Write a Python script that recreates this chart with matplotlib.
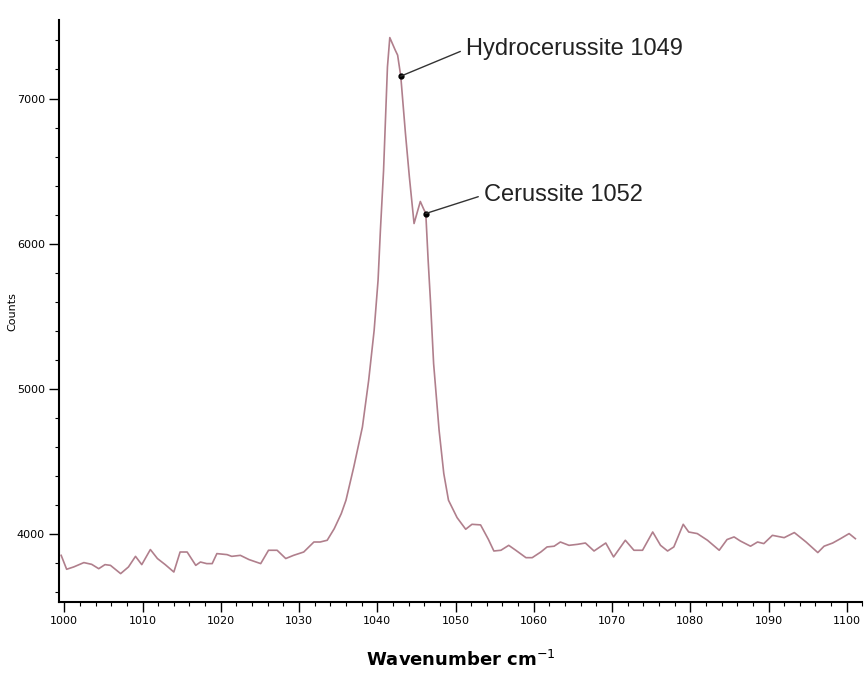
import matplotlib
matplotlib.use("Agg")
import matplotlib.pyplot as plt
from matplotlib.ticker import MultipleLocator

# spectrum
wavenumber = [
    999.6, 1000.3, 1001.2, 1002.5, 1003.5, 1004.4, 1005.2, 1005.9, 1007.2, 1008.2,
    1009.1, 1009.9, 1011.0, 1011.9, 1012.9, 1014.0, 1014.8, 1015.7, 1016.8, 1017.4,
    1018.2, 1018.9, 1019.5, 1020.8, 1021.4, 1022.5, 1023.6, 1025.1, 1026.1, 1027.2,
    1028.3, 1029.3, 1030.6, 1031.9, 1032.7, 1033.6, 1034.5, 1035.4, 1036.0, 1037.0,
    1038.1, 1038.9, 1039.6, 1040.1, 1040.4, 1040.8, 1041.3, 1041.6, 1042.3, 1042.6,
    1043.0, 1043.6, 1044.1, 1044.7, 1045.5, 1045.9, 1046.2, 1046.5, 1046.8, 1047.2,
    1047.9, 1048.5, 1049.1, 1050.2, 1051.3, 1052.1, 1053.2, 1054.2, 1054.9, 1055.8,
    1056.8, 1057.7, 1059.0, 1059.8, 1060.9, 1061.7, 1062.6, 1063.4, 1064.5, 1065.6,
    1066.6, 1067.7, 1069.2, 1070.2, 1071.7, 1072.8, 1073.9, 1075.2, 1076.2, 1077.1,
    1077.9, 1079.1, 1079.8, 1080.9, 1082.2, 1083.7, 1084.7, 1085.6, 1086.4, 1087.7,
    1088.6, 1089.4, 1090.5, 1092.0, 1093.3, 1094.8, 1096.3, 1097.1, 1098.2, 1099.2,
    1100.3, 1101.1,
]
counts = [
    3850, 3754, 3770, 3800, 3788, 3758, 3786, 3781, 3724, 3770,
    3843, 3786, 3890, 3828, 3786, 3735, 3873, 3873, 3781, 3804,
    3793, 3793, 3862, 3855, 3843, 3850, 3821, 3793, 3885, 3885,
    3828, 3850, 3873, 3942, 3942, 3954, 4034, 4138, 4230, 4460,
    4735, 5057, 5402, 5747, 6092, 6500, 7218, 7420, 7333, 7299,
    7154, 6759, 6460, 6138, 6290, 6241, 6207, 5885, 5600, 5172,
    4712, 4414, 4230, 4110, 4030, 4064, 4060, 3960, 3880, 3885,
    3919, 3885, 3834, 3834, 3873, 3908, 3913, 3942, 3919, 3926,
    3935, 3880, 3935, 3839, 3954, 3885, 3885, 4011, 3919, 3880,
    3908, 4064, 4011, 4000, 3954, 3885, 3959, 3977, 3949, 3913,
    3942, 3931, 3988, 3972, 4007, 3942, 3869, 3913, 3935, 3965,
    4000, 3965,
]

# peak labels: text, marked point, text position
peak_labels = ["Hydrocerussite 1049", "Cerussite 1052"]
peak_points = [(1043.0, 7154), (1046.2, 6207)]
label_points = [(1051.3, 7340), (1053.6, 6335)]

fig = plt.figure(figsize=(8.65, 6.73), dpi=100)
ax = fig.add_axes([0.068, 0.105, 0.929, 0.865])

ax.plot(wavenumber, counts, color='#b07f8c', lw=1.2)

for text, pt, tpos in zip(peak_labels, peak_points, label_points):
    ax.plot(pt[0], pt[1], 'o', color='k', ms=3.5, zorder=3)
    ax.annotate(text, xy=pt, xytext=tpos, ha='left', va='center',
                fontsize=17, family='Liberation Sans', color='#222222',
                arrowprops=dict(arrowstyle='-', color='#333333', lw=1.0,
                                relpos=(0, 0.5), shrinkA=2, shrinkB=0))

ax.set_xlim(999.3, 1102)
ax.set_ylim(3526, 7540)
ax.xaxis.set_major_locator(MultipleLocator(10))
ax.xaxis.set_minor_locator(MultipleLocator(2))
ax.yaxis.set_major_locator(MultipleLocator(1000))
ax.yaxis.set_minor_locator(MultipleLocator(200))

for side in ['top', 'right']:
    ax.spines[side].set_visible(False)
for side in ['left', 'bottom']:
    ax.spines[side].set_linewidth(1.5)

ax.tick_params(which='major', direction='out', length=7, width=1, labelsize=8, pad=3)
ax.tick_params(which='minor', direction='out', length=3, width=0.8)

ax.set_xlabel('Wavenumber cm$^{-1}$', fontsize=13, fontweight='bold')
ax.xaxis.set_label_coords(0.5, -0.082)
ax.set_ylabel('Counts', fontsize=8)
ax.yaxis.set_label_coords(-0.052, 0.5)

fig.savefig('out.png', dpi=100)
